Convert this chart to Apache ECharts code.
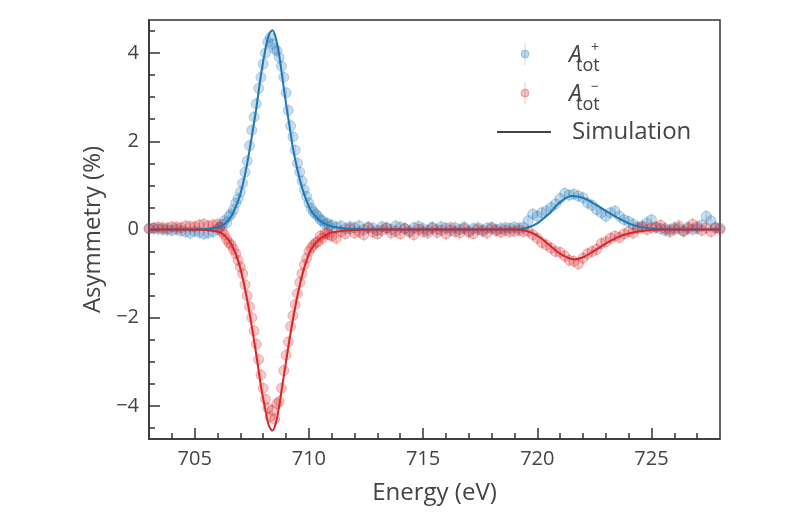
<!DOCTYPE html>
<html>
<head>
<meta charset="utf-8">
<script src="https://cdn.jsdelivr.net/npm/echarts@6/dist/echarts.min.js"></script>
<style>html,body{margin:0;padding:0;background:#fff}#c{width:800px;height:530px}</style>
</head>
<body>
<div id="c"></div>
<script>
// ---------- data ----------
const xMajorTicks = [705, 710, 715, 720, 725];
const xMinorTicks = [704, 706, 707, 708, 709, 711, 712, 713, 714, 716, 717, 718, 719, 721, 722, 723, 724, 726, 727];
const yMajorTicks = [-4, -2, 0, 2, 4];
const yMinorTicks = [-4.5, -3.5, -3, -2.5, -1.5, -1, -0.5, 0.5, 1, 1.5, 2.5, 3, 3.5, 4.5];
const errorSize = 0.15;

// A_tot^+ measured points [energy, asymmetry %]
const aPlus = [
  [703.0,0.02],[703.2,0.03],[703.4,0.01],[703.6,0.0],[703.8,-0.01],[704.0,-0.02],[704.2,0.0],[704.4,-0.03],
  [704.6,-0.05],[704.8,-0.08],[705.0,-0.04],[705.2,-0.06],[705.4,-0.1],[705.6,-0.08],[705.8,-0.05],[706.0,0.0],
  [706.1,0.05],[706.2,0.12],[706.3,0.2],[706.4,0.15],[706.5,0.3],[706.6,0.35],[706.7,0.45],[706.8,0.6],
  [706.9,0.7],[707.0,0.85],[707.1,1.05],[707.2,1.3],[707.3,1.55],[707.4,1.9],[707.5,2.25],[707.6,2.55],
  [707.7,2.85],[707.8,3.2],[707.9,3.45],[708.0,3.75],[708.1,4.0],[708.2,4.25],[708.3,4.35],[708.4,4.2],
  [708.5,4.1],[708.6,4.05],[708.7,3.9],[708.8,3.7],[708.9,3.45],[709.0,3.1],[709.1,2.7],[709.2,2.35],
  [709.3,2.1],[709.4,1.8],[709.5,1.5],[709.6,1.3],[709.7,1.1],[709.8,0.9],[709.9,0.75],[710.0,0.6],
  [710.1,0.48],[710.2,0.4],[710.3,0.35],[710.4,0.3],[710.5,0.22],[710.6,0.2],[710.7,0.12],[710.8,0.14],[710.9,0.08],
  [711.0,0.1],[711.2,0.05],[711.4,0.08],[711.6,0.02],[711.8,0.06],[712.0,0.04],[712.2,0.08],[712.4,0.0],
  [712.6,0.05],[712.8,0.03],[713.0,-0.02],[713.2,0.06],[713.4,0.04],[713.6,0.0],[713.8,0.08],[714.0,0.05],
  [714.2,0.02],[714.4,-0.03],[714.6,0.04],[714.8,0.07],[715.0,0.02],[715.2,-0.02],[715.4,0.05],[715.6,0.0],
  [715.8,0.06],[716.0,0.03],[716.2,-0.02],[716.4,0.04],[716.6,0.0],[716.8,0.05],[717.0,-0.03],[717.2,0.02],
  [717.4,0.04],[717.6,-0.01],[717.8,0.03],[718.0,0.05],[718.2,0.0],[718.4,0.02],[718.6,0.04],[718.8,0.03],[719.0,0.05],
  [719.2,0.03],[719.4,0.05],[719.6,0.2],[719.8,0.35],[720.0,0.3],[720.2,0.38],[720.4,0.42],[720.6,0.5],
  [720.8,0.58],[721.0,0.7],[721.2,0.82],[721.4,0.78],[721.6,0.8],[721.8,0.76],[722.0,0.72],[722.2,0.6],
  [722.4,0.55],[722.6,0.45],[722.8,0.38],[723.0,0.3],[723.2,0.38],[723.4,0.42],[723.6,0.3],[723.8,0.22],
  [724.0,0.18],[724.2,0.12],[724.4,0.06],[724.6,0.08],[724.8,0.15],[725.0,0.22],
  [725.2,0.05],[725.4,0.02],[725.6,-0.02],[725.8,0.0],[726.0,0.04],[726.2,0.02],[726.4,-0.03],[726.6,0.05],
  [726.8,0.0],[727.0,0.02],[727.2,0.1],[727.4,0.3],[727.6,0.2],[727.8,0.05],[728.0,0.03]
];

// A_tot^- measured points [energy, asymmetry %]
const aMinus = [
  [703.0,0.02],[703.2,0.03],[703.4,0.05],[703.6,0.04],[703.8,0.03],[704.0,0.06],[704.2,0.05],[704.4,0.04],
  [704.6,0.08],[704.8,0.07],[705.0,0.06],[705.2,0.1],[705.4,0.12],[705.6,0.08],[705.8,0.1],[706.0,0.12],
  [706.1,0.05],[706.2,-0.05],[706.3,-0.12],[706.4,-0.22],[706.5,-0.3],[706.6,-0.35],[706.7,-0.45],[706.8,-0.55],
  [706.9,-0.7],[707.0,-0.85],[707.1,-1.0],[707.2,-1.25],[707.3,-1.5],[707.4,-1.75],[707.5,-2.0],[707.6,-2.3],
  [707.7,-2.6],[707.8,-2.95],[707.9,-3.3],[708.0,-3.6],[708.1,-3.85],[708.2,-4.05],[708.3,-4.25],[708.4,-4.1],
  [708.5,-4.3],[708.6,-3.95],[708.7,-3.9],[708.8,-3.6],[708.9,-3.2],[709.0,-2.85],[709.1,-2.55],[709.2,-2.2],
  [709.3,-1.95],[709.4,-1.7],[709.5,-1.45],[709.6,-1.2],[709.7,-1.0],[709.8,-0.8],[709.9,-0.65],[710.0,-0.5],
  [710.1,-0.42],[710.2,-0.35],[710.3,-0.3],[710.4,-0.28],[710.5,-0.15],[710.6,-0.2],[710.7,-0.1],[710.8,-0.08],[710.9,-0.12],
  [711.0,-0.15],[711.2,-0.2],[711.4,-0.05],[711.6,-0.1],[711.8,0.02],[712.0,-0.08],[712.2,-0.05],[712.4,-0.12],
  [712.6,0.04],[712.8,-0.06],[713.0,-0.1],[713.2,-0.02],[713.4,0.03],[713.6,-0.08],[713.8,-0.04],[714.0,-0.1],
  [714.2,0.02],[714.4,-0.06],[714.6,-0.12],[714.8,0.0],[715.0,-0.05],[715.2,-0.08],[715.4,0.03],[715.6,-0.07],
  [715.8,-0.02],[716.0,-0.1],[716.2,0.04],[716.4,-0.05],[716.6,-0.08],[716.8,0.02],[717.0,-0.06],[717.2,-0.1],
  [717.4,0.0],[717.6,-0.04],[717.8,-0.08],[718.0,0.02],[718.2,-0.03],[718.4,-0.06],[718.6,-0.02],[718.8,-0.05],[719.0,-0.04],
  [719.2,-0.02],[719.4,-0.05],[719.6,-0.04],[719.8,-0.12],[720.0,-0.2],[720.2,-0.3],[720.4,-0.35],[720.6,-0.42],
  [720.8,-0.5],[721.0,-0.52],[721.2,-0.6],[721.4,-0.7],[721.6,-0.72],[721.8,-0.78],[722.0,-0.65],[722.2,-0.55],
  [722.4,-0.5],[722.6,-0.45],[722.8,-0.32],[723.0,-0.28],[723.2,-0.2],[723.4,-0.15],[723.6,-0.18],[723.8,-0.1],
  [724.0,-0.05],[724.2,-0.08],[724.4,0.02],[724.6,0.05],[724.8,0.0],[725.0,0.04],
  [725.2,0.05],[725.4,0.1],[725.6,0.02],[725.8,-0.05],[726.0,0.0],[726.2,0.08],[726.4,-0.04],[726.6,0.02],
  [726.8,0.12],[727.0,0.06],[727.2,-0.02],[727.4,0.04],[727.6,-0.05],[727.8,0.03],[728.0,0.0]
];

// Simulation curves [energy, asymmetry %]
const simPlus = [
  [703,0],[704,0],[705,0],[705.5,0.01],[706,0.05],[706.3,0.12],[706.6,0.3],[706.9,0.65],[707.1,1.0],
  [707.3,1.5],[707.5,2.1],[707.7,2.75],[707.9,3.5],[708.1,4.1],[708.25,4.42],[708.4,4.52],[708.55,4.35],
  [708.7,3.95],[708.85,3.4],[709.0,2.85],[709.15,2.35],[709.3,1.85],[709.5,1.35],[709.7,0.95],[709.9,0.65],
  [710.1,0.42],[710.4,0.24],[710.7,0.13],[711.0,0.07],[711.5,0.03],[712,0.01],[713,0],[716,0],[719,0],
  [719.5,0.03],[720,0.14],[720.5,0.35],[721,0.62],[721.5,0.76],[722,0.72],[722.5,0.58],[723,0.42],
  [723.5,0.27],[724,0.14],[724.5,0.06],[725,0.02],[726,0],[728,0]
];
const simMinus = [
  [703,0],[704,0],[705,0],[705.5,-0.01],[706,-0.05],[706.3,-0.13],[706.6,-0.33],[706.9,-0.7],[707.1,-1.1],
  [707.3,-1.6],[707.5,-2.2],[707.7,-2.85],[707.9,-3.55],[708.1,-4.1],[708.25,-4.45],[708.4,-4.56],[708.55,-4.4],
  [708.7,-4.0],[708.85,-3.5],[709.0,-3.0],[709.15,-2.5],[709.3,-2.05],[709.5,-1.5],[709.7,-1.05],[709.9,-0.7],
  [710.1,-0.45],[710.4,-0.25],[710.7,-0.14],[711,-0.07],[711.5,-0.03],[712,-0.01],[713,0],[716,0],[719,0],
  [719.5,-0.03],[720,-0.14],[720.5,-0.34],[721,-0.55],[721.6,-0.68],[722,-0.63],[722.5,-0.48],[723,-0.32],
  [723.5,-0.18],[724,-0.09],[724.5,-0.04],[725,-0.01],[726,0],[728,0]
];

// ---------- styling ----------
const FONT = '"Open Sans", "Noto Sans", sans-serif';
const TXT = '#444';
const AX = '#333';
const BLUE = '#1f77b4';
const RED = '#d62728';
const BLUE_PT = 'rgba(31,119,180,0.3)';
const RED_PT = 'rgba(214,39,40,0.3)';
const BLUE_ERR = 'rgba(31,119,180,0.18)';
const RED_ERR = 'rgba(214,39,40,0.18)';

function errRender(color) {
  return function (params, api) {
    const x = api.value(0), y = api.value(1);
    const p1 = api.coord([x, y - errorSize]);
    const p2 = api.coord([x, y + errorSize]);
    return { type: 'line', shape: { x1: p1[0], y1: p1[1], x2: p2[0], y2: p2[1] },
             style: { stroke: color, lineWidth: 1.5 } };
  };
}

const chart = echarts.init(document.getElementById('c'), null, { renderer: 'canvas' });

const legendX = 525;
const graphic = [
  // A+ entry
  { type: 'line', shape: { x1: legendX, y1: 43, x2: legendX, y2: 65 }, style: { stroke: BLUE_ERR, lineWidth: 1.5 } },
  { type: 'circle', shape: { cx: legendX, cy: 54, r: 4 }, style: { fill: BLUE_PT, stroke: BLUE_PT } },
  { type: 'text', x: 569, y: 67, style: { text: 'A', font: 'italic 400 23px ' + FONT, fill: TXT, textVerticalAlign: 'bottom' } },
  { type: 'text', x: 591, y: 55, style: { text: '+', font: '400 14px ' + FONT, fill: TXT, textVerticalAlign: 'bottom' } },
  { type: 'text', x: 576, y: 75, style: { text: 'tot', font: '400 18px ' + FONT, fill: TXT, textVerticalAlign: 'bottom' } },
  // A- entry
  { type: 'line', shape: { x1: legendX, y1: 82, x2: legendX, y2: 104 }, style: { stroke: RED_ERR, lineWidth: 1.5 } },
  { type: 'circle', shape: { cx: legendX, cy: 93, r: 4 }, style: { fill: RED_PT, stroke: RED_PT } },
  { type: 'text', x: 569, y: 106, style: { text: 'A', font: 'italic 400 23px ' + FONT, fill: TXT, textVerticalAlign: 'bottom' } },
  { type: 'text', x: 591, y: 94, style: { text: '\u2212', font: '400 14px ' + FONT, fill: TXT, textVerticalAlign: 'bottom' } },
  { type: 'text', x: 576, y: 114, style: { text: 'tot', font: '400 18px ' + FONT, fill: TXT, textVerticalAlign: 'bottom' } },
  // Simulation entry
  { type: 'line', shape: { x1: 497, y1: 132, x2: 551, y2: 132 }, style: { stroke: '#444', lineWidth: 2 } },
  { type: 'text', x: 572, y: 132, style: { text: 'Simulation', font: '400 24px ' + FONT, fill: TXT, textVerticalAlign: 'middle' } }
];

function axisBase(extra) {
  return Object.assign({
    axisLine: { show: true, onZero: false, lineStyle: { color: AX, width: 1.5 } },
    splitLine: { show: false }
  }, extra);
}

const option = {
  animation: false,
  backgroundColor: '#fff',
  textStyle: { fontFamily: FONT },
  grid: { left: 149, right: 80, top: 20, bottom: 91, show: true, borderColor: AX, borderWidth: 1.5, backgroundColor: 'transparent' },
  xAxis: [
    axisBase({
      type: 'value', min: 703, max: 728, position: 'bottom',
      axisTick: { show: true, inside: true, length: 11, customValues: xMajorTicks, lineStyle: { color: AX, width: 1.5 } },
      axisLabel: { show: true, customValues: xMajorTicks, fontSize: 20, color: TXT, margin: 10, fontFamily: FONT, fontWeight: 400 },
      name: 'Energy (eV)', nameLocation: 'middle', nameGap: 42,
      nameTextStyle: { fontSize: 24, color: TXT, fontFamily: FONT, fontWeight: 400 }
    }),
    axisBase({
      type: 'value', min: 703, max: 728, position: 'bottom',
      axisLine: { show: false, onZero: false },
      axisTick: { show: true, inside: true, length: 6, customValues: xMinorTicks, lineStyle: { color: AX, width: 1.5 } },
      axisLabel: { show: false }
    })
  ],
  yAxis: [
    axisBase({
      type: 'value', min: -4.75, max: 4.75, position: 'left',
      axisTick: { show: true, inside: true, length: 11, customValues: yMajorTicks, lineStyle: { color: AX, width: 1.5 } },
      axisLabel: { show: true, customValues: yMajorTicks, fontSize: 20, color: TXT, margin: 10, fontFamily: FONT, fontWeight: 400,
                   formatter: v => String(v).replace('-', '\u2212') },
      name: 'Asymmetry (%)', nameLocation: 'middle', nameGap: 42,
      nameTextStyle: { fontSize: 24, color: TXT, fontFamily: FONT, fontWeight: 400 }
    }),
    axisBase({
      type: 'value', min: -4.75, max: 4.75, position: 'left',
      axisLine: { show: false, onZero: false },
      axisTick: { show: true, inside: true, length: 6, customValues: yMinorTicks, lineStyle: { color: AX, width: 1.5 } },
      axisLabel: { show: false }
    })
  ],
  graphic: graphic,
  series: [
    { type: 'custom', name: 'errPlus', renderItem: errRender(BLUE_ERR), data: aPlus, clip: true, z: 1, silent: true },
    { type: 'scatter', name: 'A+', data: aPlus, symbol: 'circle', symbolSize: 10,
      itemStyle: { color: BLUE_PT, borderColor: 'rgba(31,119,180,0.35)', borderWidth: 1 }, z: 2, silent: true },
    { type: 'custom', name: 'errMinus', renderItem: errRender(RED_ERR), data: aMinus, clip: true, z: 3, silent: true },
    { type: 'scatter', name: 'A-', data: aMinus, symbol: 'circle', symbolSize: 10,
      itemStyle: { color: RED_PT, borderColor: 'rgba(214,39,40,0.35)', borderWidth: 1 }, z: 4, silent: true },
    { type: 'line', name: 'SimPlus', data: simPlus, smooth: 0.3, showSymbol: false, z: 5,
      lineStyle: { color: BLUE, width: 2 }, silent: true },
    { type: 'line', name: 'SimMinus', data: simMinus, smooth: 0.3, showSymbol: false, z: 6,
      lineStyle: { color: RED, width: 2 }, silent: true }
  ]
};
chart.setOption(option);
</script>
</body>
</html>
